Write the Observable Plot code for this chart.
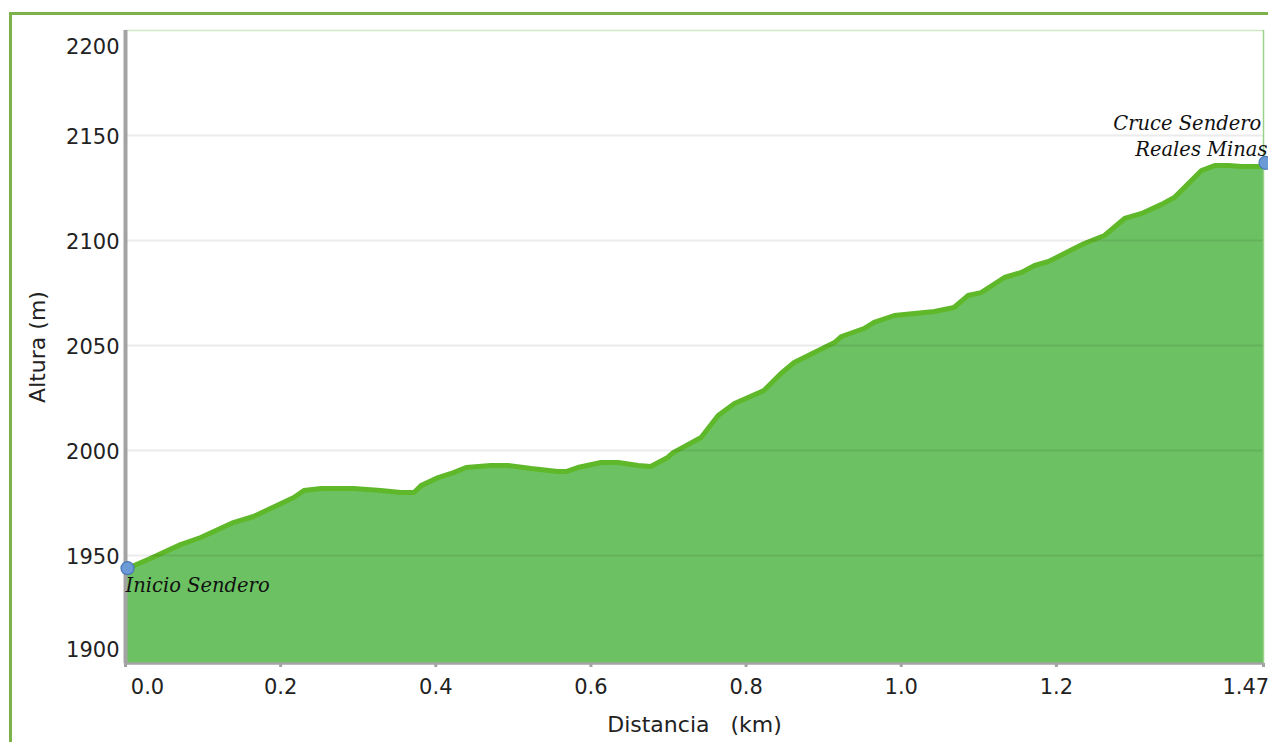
<!DOCTYPE html>
<html>
<head>
<meta charset="utf-8">
<script src="https://cdn.jsdelivr.net/npm/d3@7"></script>
<script src="https://cdn.jsdelivr.net/npm/@observablehq/plot@0.6"></script>
<style>
  html, body { margin: 0; padding: 0; background: #ffffff; }
  #wrap { position: relative; width: 1268px; height: 742px; overflow: hidden; }
  #border { position: absolute; left: 9px; top: 12px; width: 1300px; height: 800px;
            border-left: 3px solid #7db24a; border-top: 3px solid #7db24a; box-sizing: border-box; }
  #chart { position: absolute; left: 0; top: 0; }
</style>
</head>
<body>
<div id="wrap"><div id="border"></div><div id="chart"></div></div>
<script>
// Distance along the trail (km)
const distKm = [0, 0.032, 0.071, 0.097, 0.139, 0.165, 0.187, 0.217, 0.230, 0.252, 0.294, 0.329, 0.355, 0.372,
  0.381, 0.403, 0.423, 0.439, 0.471, 0.493, 0.523, 0.557, 0.568, 0.583, 0.613, 0.635, 0.661, 0.677,
  0.699, 0.706, 0.742, 0.764, 0.785, 0.823, 0.845, 0.862, 0.914, 0.923, 0.952, 0.965, 0.991, 1.043,
  1.068, 1.086, 1.103, 1.133, 1.155, 1.172, 1.190, 1.223, 1.236, 1.262, 1.288, 1.310, 1.335, 1.352,
  1.365, 1.387, 1.404, 1.422, 1.439, 1.467];
// Altitude (m)
const altM = [1943.5, 1948.6, 1955.2, 1958.6, 1965.7, 1968.6, 1972.4, 1977.6, 1981.0, 1981.9, 1981.9, 1981.0, 1980.0, 1980.0,
  1983.3, 1987.1, 1989.5, 1991.9, 1992.9, 1992.9, 1991.4, 1990.0, 1990.0, 1991.9, 1994.3, 1994.3, 1992.9, 1992.4,
  1996.7, 1999.0, 2006.2, 2016.7, 2022.4, 2028.6, 2036.7, 2041.9, 2051.4, 2054.3, 2058.1, 2061.0, 2064.3, 2066.2,
  2068.1, 2073.8, 2075.2, 2082.4, 2084.8, 2088.1, 2090.0, 2096.2, 2098.6, 2102.4, 2110.5, 2112.9, 2117.1, 2120.5,
  2125.2, 2133.3, 2135.7, 2135.7, 2135.2, 2135.2];

// Waypoints
const wpDist = [0, 1.467];
const wpAlt = [1944, 2137];
const wpName = ["Inicio Sendero", "Cruce Sendero\u00a0\nReales Minas"];

// Tick labels
const yTicksMid = [1950, 2000, 2050, 2100, 2150];
const yTickTop = [2200];
const yTickBottom = [1900];
const xTicksMid = [0.2, 0.4, 0.6, 0.8, 1.0, 1.2];
const xTickFirst = [0];
const xTickLast = [1.47];

const xLabel = "Distancia\u00a0\u00a0\u00a0(km)";
const yLabel = "Altura (m)";

const xDomain = [0, 1.467];
const yDomain = [1898.6, 2200];
const yMid = (yDomain[0] + yDomain[1]) / 2;

const profile = distKm.map((d, i) => ({d, a: altM[i]}));
const waypoints = wpDist.map((d, i) => ({d, a: wpAlt[i], name: wpName[i]}));

const fmtX = v => v === 1.47 ? "1.47" : v.toFixed(1);
const fmtY = v => String(v);
const tickFont = {fontSize: 21, fill: "#222"};
const tickMarks = {tickSize: 4, stroke: "#a3a3a3", strokeWidth: 3, tickFormat: () => "", label: null};
const noteFont = {fontFamily: "'DejaVu Serif', serif", fontStyle: "italic", fontSize: 19.5, fill: "#111"};

const chart = Plot.plot({
  width: 1268,
  height: 742,
  marginLeft: 125,
  marginRight: 5,
  marginTop: 30,
  marginBottom: 79,
  style: {fontFamily: "'DejaVu Sans', Verdana, sans-serif", fontSize: "21px", background: "transparent", overflow: "visible"},
  x: {domain: xDomain},
  y: {domain: yDomain},
  marks: [
    Plot.areaY(profile, {x: "d", y1: yDomain[0], y2: "a", fill: "#6cc262"}),
    Plot.line(profile, {x: "d", y: "a", stroke: "#5fb829", strokeWidth: 5, strokeLinejoin: "round"}),
    Plot.gridY(yTicksMid, {stroke: "#000", strokeOpacity: 0.08, strokeWidth: 2}),
    Plot.ruleY(yTickTop, {stroke: "#cfe8c6", strokeWidth: 1.5}),
    Plot.ruleX([xDomain[1]], {stroke: "#9ad28a", strokeWidth: 1.5}),
    Plot.axisX([...xTickFirst, ...xTicksMid, xDomain[1]], tickMarks),
    Plot.ruleY([yDomain[0]], {stroke: "#a3a3a3", strokeWidth: 2.5}),
    Plot.ruleX([0], {stroke: "#a3a3a3", strokeWidth: 4}),
    Plot.axisY(yTicksMid, {tickSize: 0, tickPadding: 6, dy: 2, tickFormat: fmtY, ...tickFont, label: null}),
    Plot.axisY(yTickTop, {tickSize: 0, tickPadding: 6, dy: 17, tickFormat: fmtY, ...tickFont, label: null}),
    Plot.axisY(yTickBottom, {tickSize: 0, tickPadding: 6, dy: -10, tickFormat: fmtY, ...tickFont, label: null}),
    Plot.axisX(xTicksMid, {tickSize: 0, tickPadding: 16, tickFormat: fmtX, ...tickFont, label: null}),
    Plot.axisX(xTickFirst, {tickSize: 0, tickPadding: 16, dx: 22, tickFormat: fmtX, ...tickFont, label: null}),
    Plot.axisX(xTickLast, {tickSize: 0, tickPadding: 16, dx: -20, tickFormat: fmtX, ...tickFont, label: null}),
    Plot.text([xLabel], {frameAnchor: "bottom", textAnchor: "middle", dy: 68, lineAnchor: "bottom", fontSize: 22, fill: "#222"}),
    Plot.text([yLabel], {frameAnchor: "left", y: yMid, textAnchor: "middle", rotate: -90, dx: -88, fontSize: 22, fill: "#222"}),
    Plot.dot(waypoints, {x: "d", y: "a", r: 6.5, fill: "#6b9ad6", stroke: "#4a78b5", strokeWidth: 1.2, dx: 2}),
    Plot.text(waypoints.slice(0, 1), {x: "d", y: "a", text: "name", textAnchor: "start", lineAnchor: "top", dy: 10, ...noteFont}),
    Plot.text(waypoints.slice(1), {x: "d", y: "a", text: "name", textAnchor: "end", lineAnchor: "bottom", dy: -7, dx: 4,
      lineHeight: 1.33, ...noteFont})
  ]
});
document.getElementById("chart").append(chart);
</script>
</body>
</html>
